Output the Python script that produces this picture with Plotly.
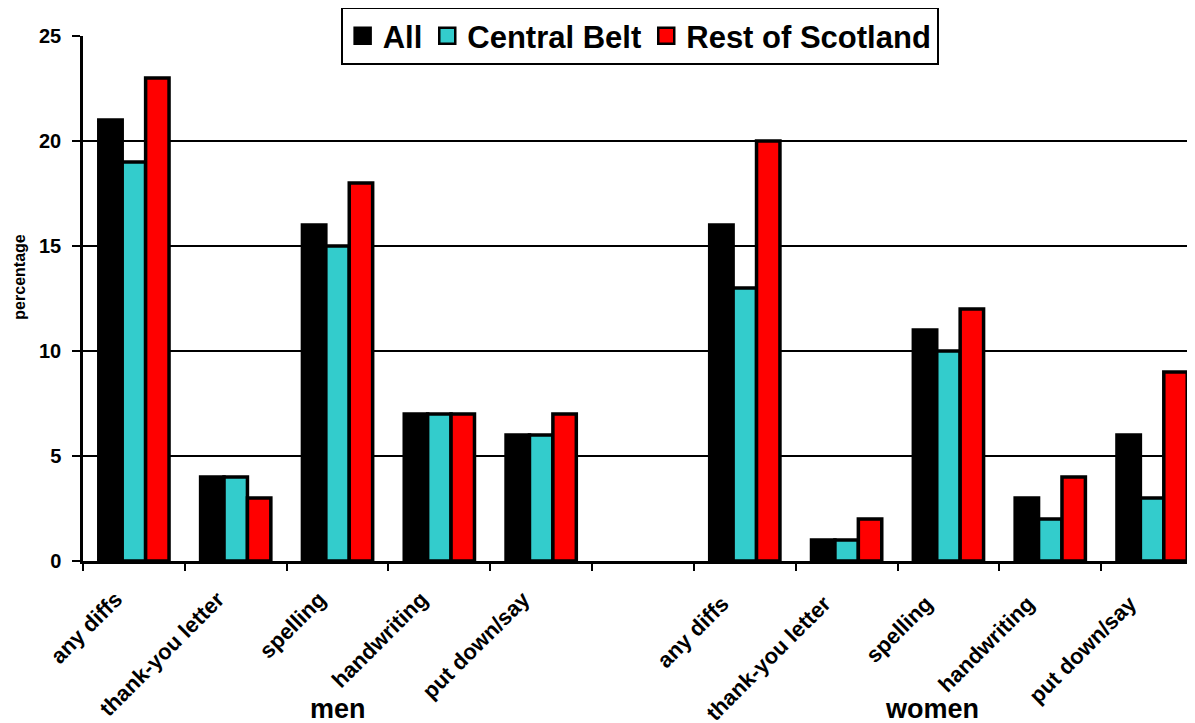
import plotly.graph_objects as go

# categories (trailing spaces keep women's categories distinct; " " is the empty gap slot)
categories = ["any diffs", "thank-you letter", "spelling", "handwriting", "put down/say",
              " ",
              "any diffs ", "thank-you letter ", "spelling ", "handwriting ", "put down/say "]

all_vals = [21, 4, 16, 7, 6, None, 16, 1, 11, 3, 6]
central_belt = [19, 4, 15, 7, 6, None, 13, 1, 10, 2, 3]
rest_of_scotland = [23, 3, 18, 7, 7, None, 20, 2, 12, 4, 9]

series_names = ["All", "Central Belt", "Rest of Scotland"]
series_colors = ["#000000", "#33CCCC", "#FF0000"]
series_values = [all_vals, central_belt, rest_of_scotland]

y_ticks = [0, 5, 10, 15, 20, 25]
group_labels = ["men", "women"]
group_label_pos = [2, 7.84]
y_title = "percentage"

FONT = "Liberation Sans, Arial, sans-serif"

fig = go.Figure()
for name, color, vals in zip(series_names, series_colors, series_values):
    fig.add_trace(go.Bar(
        x=categories, y=vals, name=name,
        marker=dict(color=color, line=dict(color="black", width=3.5)),
        showlegend=False,
    ))
    # legend proxy with larger square symbol
    fig.add_trace(go.Scatter(
        x=[None], y=[None], mode="markers", name=name,
        marker=dict(symbol="square", size=20, color=color,
                    line=dict(color="black", width=2.5)),
        showlegend=True,
    ))

fig.update_layout(
    width=1195, height=723,
    margin=dict(l=75, r=0, t=28, b=170, autoexpand=False),
    paper_bgcolor="white", plot_bgcolor="white",
    barmode="group", bargap=0.31, bargroupgap=0,
    font=dict(family=FONT, color="black", size=16, weight="bold"),
    legend=dict(
        orientation="h", x=0.497, xanchor="center", y=1.0, yanchor="middle",
        bgcolor="white", bordercolor="black", borderwidth=2,
        font=dict(size=31, family=FONT, weight="bold", color="black"),
        itemsizing="trace", traceorder="normal",
        itemwidth=30, tracegroupgap=0,
    ),
    showlegend=True,
)

fig.update_xaxes(
    type="category", categoryorder="array", categoryarray=categories,
    range=[-0.5, 10.5],
    tickson="boundaries", ticks="outside", ticklen=7, tickwidth=2, tickcolor="black",
    showline=True, linecolor="black", linewidth=2.5,
    showgrid=False, tickangle=-45,
    ticklabelstandoff=14, ticklabelshift=-18,
    tickfont=dict(size=22, family=FONT, weight="bold", color="black"),
    fixedrange=True,
)
fig.update_yaxes(
    range=[0, 25], tickvals=y_ticks,
    ticks="outside", ticklen=8, tickwidth=2, tickcolor="black",
    showline=True, linecolor="black", linewidth=2.5,
    showgrid=True, gridcolor="black", gridwidth=1.8,
    zeroline=False,
    ticklabelstandoff=7,
    tickfont=dict(size=20, family=FONT, weight="bold", color="black"),
)

# y-axis title (sits slightly above the axis middle in the original)
fig.add_annotation(x=-0.057, y=0.54, xref="paper", yref="paper", text=y_title,
                   textangle=-90, showarrow=False,
                   font=dict(size=16, family=FONT, weight="bold"),
                   xanchor="center", yanchor="middle")

# group labels under the axis
for lab, pos in zip(group_labels, group_label_pos):
    fig.add_annotation(x=pos, y=-0.281, xref="x", yref="paper", text=lab,
                       showarrow=False, font=dict(size=27, family=FONT, weight="bold"),
                       yanchor="middle")

fig.write_html("out.html")
